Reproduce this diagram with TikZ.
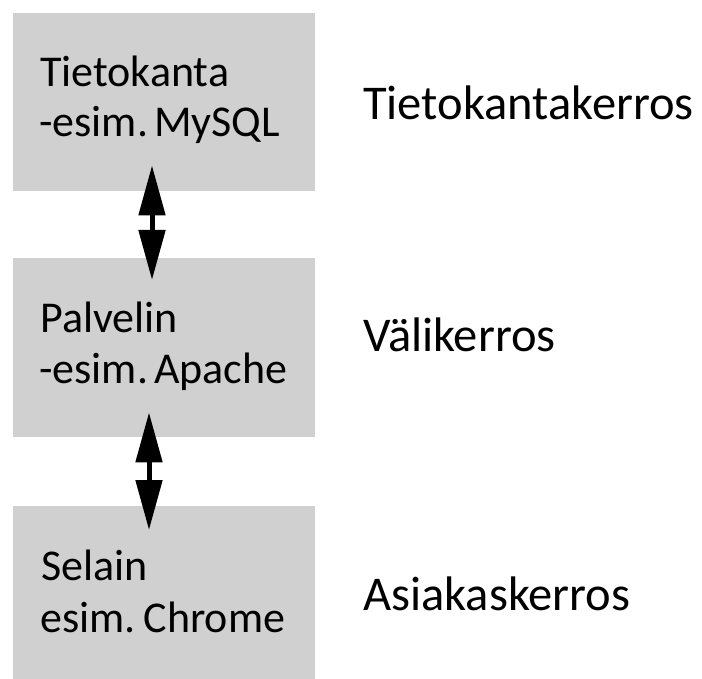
\documentclass[tikz,border=0pt]{standalone}
\usepackage{fontspec}
\setmainfont{Carlito}
\usetikzlibrary{arrows.meta,calc}
\definecolor{layergray}{RGB}{208,208,208}
\tikzset{
  layerbox/.style={rectangle, fill=layergray, draw=none, anchor=north west,
    minimum width=302pt, inner sep=0pt},
  boxtext/.style={anchor=base west, inner sep=0pt, font=\fontsize{44}{50}\selectfont},
  layerlabel/.style={anchor=base west, inner sep=0pt, font=\fontsize{48.5}{56}\selectfont},
  link/.style={line width=5pt, {Triangle[length=50pt,width=26pt]}-{Triangle[length=50pt,width=26pt]}}
}
\begin{document}
\begin{tikzpicture}[x=1pt,y=-1pt]
  \useasboundingbox (0,0) rectangle (702,679);
  % the three layers
  \node[layerbox, minimum height=178pt] (db) at (13,13) {};
  \node[layerbox, minimum height=179pt] (srv) at (13,258) {};
  \node[layerbox, minimum height=173pt] (cli) at (13,506) {};
  % text inside the layers
  \node[boxtext] (dbA) at (40,87) {Tietokanta};
  \node[boxtext] (dbB) at (39,137) {-esim.\kern6pt MySQL};
  \node[boxtext] (srvA) at (40,332) {Palvelin};
  \node[boxtext] (srvB) at (39,383) {-esim.\kern6pt Apache};
  \node[boxtext] (cliA) at (41,580) {Selain};
  \node[boxtext] (cliB) at (40,632) {esim.\kern8pt Chrome};
  % layer names
  \node[layerlabel] (l1) at (363,120) {Tietokantakerros};
  \node[layerlabel] (l2) at (363,352) {Välikerros};
  \node[layerlabel] (l3) at (363,610) {Asiakaskerros};
  % two-way links between layers
  \coordinate (a1) at ($(db.south west)+(139,-26)$);
  \coordinate (a2) at ($(srv.north west)+(139,22)$);
  \coordinate (b1) at ($(srv.south west)+(136,-25)$);
  \coordinate (b2) at ($(cli.north west)+(136,24)$);
  \draw[link] (a1) -- (a2);
  \draw[link] (b1) -- (b2);
\end{tikzpicture}
\end{document}
